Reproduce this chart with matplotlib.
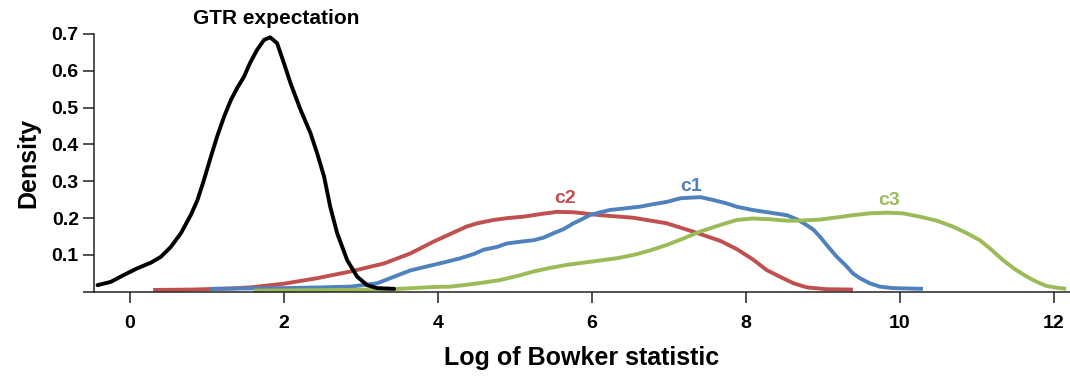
import numpy as np
import matplotlib
matplotlib.use("Agg")
import matplotlib.pyplot as plt

plt.rcParams['font.family'] = ['Liberation Sans', 'DejaVu Sans']
plt.rcParams['font.weight'] = 'bold'

# density curves, log of Bowker statistic vs density
gtr_x = [-0.423, -0.25, -0.078, 0.096, 0.27, 0.40, 0.53, 0.66, 0.79, 0.875,
         0.96, 1.05, 1.13, 1.22, 1.31, 1.39, 1.48, 1.56, 1.65, 1.74, 1.82,
         1.91, 2.0, 2.085, 2.215, 2.345, 2.43, 2.52, 2.60, 2.69, 2.82, 2.95,
         3.08, 3.21, 3.43]
gtr_y = [0.018, 0.027, 0.046, 0.064, 0.079, 0.095, 0.122, 0.159, 0.209, 0.249,
         0.304, 0.367, 0.421, 0.475, 0.521, 0.553, 0.584, 0.622, 0.657, 0.684,
         0.691, 0.675, 0.620, 0.566, 0.494, 0.430, 0.376, 0.313, 0.231, 0.159,
         0.086, 0.041, 0.018, 0.010, 0.008]

c2_x = [0.30, 0.8, 1.3, 1.57, 2.0, 2.43, 2.86, 3.30, 3.64, 3.94, 4.16, 4.37,
        4.51, 4.72, 4.90, 5.11, 5.33, 5.54, 5.76, 6.11, 6.54, 6.97, 7.32, 7.67,
        7.88, 8.09, 8.27, 8.44, 8.62, 8.79, 9.05, 9.39]
c2_y = [0.005, 0.006, 0.009, 0.012, 0.022, 0.037, 0.055, 0.077, 0.104, 0.136,
        0.157, 0.177, 0.186, 0.195, 0.200, 0.204, 0.211, 0.217, 0.216, 0.208,
        0.201, 0.186, 0.163, 0.138, 0.116, 0.088, 0.059, 0.041, 0.023, 0.012,
        0.007, 0.006]

c1_x = [1.04, 1.5, 2.0, 2.5, 2.86, 3.21, 3.43, 3.64, 3.94, 4.12, 4.29, 4.47,
        4.59, 4.77, 4.89, 5.07, 5.24, 5.37, 5.50, 5.63, 5.76, 5.87, 5.97, 6.11,
        6.23, 6.45, 6.62, 6.80, 6.97, 7.15, 7.32, 7.41, 7.58, 7.75, 7.88, 8.09,
        8.31, 8.53, 8.66, 8.79, 8.88, 8.96, 9.07, 9.18, 9.29, 9.39, 9.48, 9.61,
        9.74, 9.91, 10.30]
c1_y = [0.008, 0.009, 0.010, 0.012, 0.014, 0.023, 0.041, 0.058, 0.073, 0.082,
        0.091, 0.103, 0.114, 0.122, 0.131, 0.136, 0.140, 0.147, 0.159, 0.170,
        0.186, 0.197, 0.208, 0.216, 0.222, 0.227, 0.231, 0.238, 0.244, 0.254,
        0.256, 0.257, 0.249, 0.240, 0.231, 0.222, 0.215, 0.208, 0.197, 0.181,
        0.168, 0.150, 0.122, 0.095, 0.073, 0.050, 0.037, 0.023, 0.014, 0.010,
        0.008]

c3_x = [1.60, 2.2, 2.8, 3.4, 3.94, 4.16, 4.37, 4.59, 4.81, 5.03, 5.24, 5.46,
        5.67, 5.89, 6.10, 6.32, 6.54, 6.75, 6.97, 7.19, 7.40, 7.66, 7.88, 8.09,
        8.31, 8.53, 8.65, 8.96, 9.18, 9.39, 9.61, 9.83, 10.04, 10.26, 10.48,
        10.69, 10.87, 11.04, 11.19, 11.34, 11.49, 11.65, 11.78, 11.90, 12.04,
        12.16]
c3_y = [0.003, 0.004, 0.005, 0.007, 0.013, 0.014, 0.019, 0.025, 0.032, 0.043,
        0.055, 0.065, 0.073, 0.079, 0.085, 0.091, 0.100, 0.112, 0.127, 0.145,
        0.163, 0.181, 0.195, 0.199, 0.197, 0.193, 0.193, 0.196, 0.202, 0.208,
        0.213, 0.215, 0.213, 0.204, 0.193, 0.177, 0.159, 0.140, 0.114, 0.086,
        0.062, 0.041, 0.027, 0.016, 0.011, 0.008]

x_ticks = [0, 2, 4, 6, 8, 10, 12]
y_ticks = [0, 0.1, 0.2, 0.3, 0.4, 0.5, 0.6, 0.7]
y_ticklabels = ['', '0.1', '0.2', '0.3', '0.4', '0.5', '0.6', '0.7']

RED = '#c0504d'
BLUE = '#4f81bd'
GREEN = '#9bbb59'

fig = plt.figure(figsize=(10.7, 3.79), dpi=100)
ax = fig.add_axes([0.0879, 0.2301, 0.9121, 0.6802])

lw = 2.8
line_kw = dict(lw=lw, solid_joinstyle='round', clip_on=False)
ax.plot(c2_x, c2_y, color=RED, solid_capstyle='butt', **line_kw)
ax.plot(c1_x, c1_y, color=BLUE, solid_capstyle='butt', **line_kw)
ax.plot(c3_x, c3_y, color=GREEN, solid_capstyle='butt', **line_kw)
ax.plot(gtr_x, gtr_y, color='black', solid_capstyle='round', **line_kw)

# curve labels
ax.text(1.9, 0.743, 'GTR expectation', color='black', fontsize=15,
        fontweight='bold', ha='center', va='center')
ax.text(5.65, 0.253, 'c2', color=RED, fontsize=14, fontweight='bold',
        ha='center', va='center')
ax.text(7.29, 0.286, 'c1', color=BLUE, fontsize=14, fontweight='bold',
        ha='center', va='center')
ax.text(9.86, 0.249, 'c3', color=GREEN, fontsize=14, fontweight='bold',
        ha='center', va='center')

ax.set_xlim(-0.468, 12.21)
ax.set_ylim(0, 0.7)
ax.set_xticks(x_ticks)
ax.set_yticks(y_ticks)
ax.set_yticklabels(y_ticklabels)

for side in ['top', 'right']:
    ax.spines[side].set_visible(False)
for side in ['left', 'bottom']:
    ax.spines[side].set_linewidth(1.1)
    ax.spines[side].set_color('#222222')

ax.tick_params(axis='both', direction='out', length=8, width=1.1,
               color='#222222', labelsize=14, pad=3)
ax.tick_params(axis='x', pad=9)
for lab in ax.get_xticklabels() + ax.get_yticklabels():
    lab.set_fontweight('bold')

ax.set_xlabel('Log of Bowker statistic', fontsize=18, fontweight='bold',
              labelpad=10)
ax.set_ylabel('Density', fontsize=18, fontweight='bold', labelpad=8)

fig.savefig('out.png', dpi=100)
